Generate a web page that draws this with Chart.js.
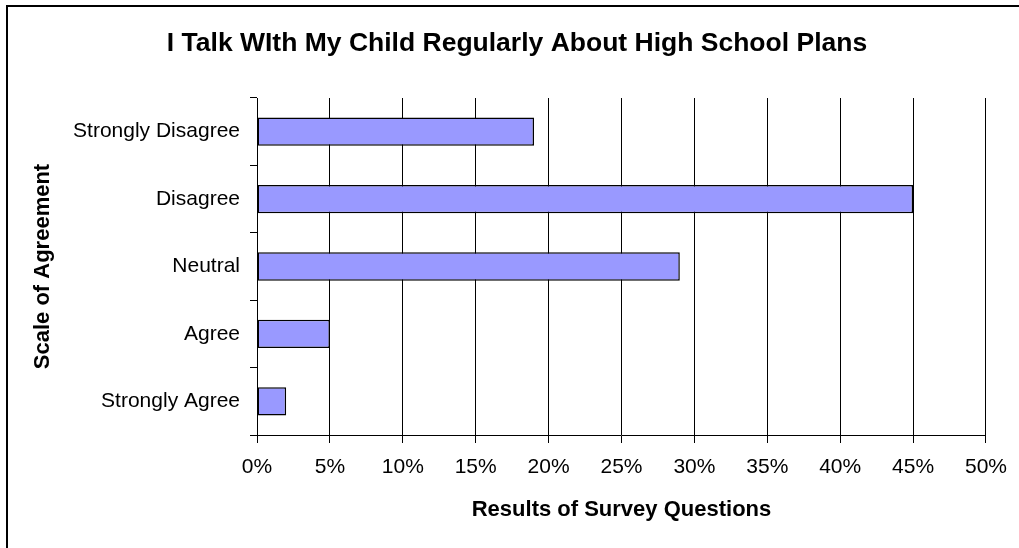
<!DOCTYPE html>
<html>
<head>
<meta charset="utf-8">
<script src="https://cdn.jsdelivr.net/npm/chart.js@4/dist/chart.umd.min.js"></script>
<style>
  html,body{margin:0;padding:0;background:#fff;overflow:hidden;}
  #wrap{position:absolute;left:0;top:0;width:1019px;height:548px;}
  #frame{position:absolute;left:6px;top:5px;width:1100px;height:700px;border:2px solid #000;}
  canvas{position:absolute;left:0;top:0;}
</style>
</head>
<body>
<div id="wrap">
  <div id="frame"></div>
  <canvas id="chart" width="1019" height="548"></canvas>
</div>
<script>
const categories = ['Strongly Disagree','Disagree','Neutral','Agree','Strongly Agree'];
const percents = [19, 45, 29, 5, 2];
const xTicksMax = 50;
const xTicksStep = 5;
const chartTitle = 'I Talk WIth My Child Regularly About High School Plans';

const font = '"Liberation Sans", Arial, sans-serif';

// title drawn by hand so it can sit a bit right of the canvas centre, like the original
const titlePlugin = {
  id: 'titleText',
  afterDraw(chart){
    const ctx = chart.ctx;
    ctx.save();
    ctx.font = 'bold 26.5px ' + font;
    ctx.fillStyle = '#000';
    ctx.textAlign = 'center';
    ctx.textBaseline = 'middle';
    ctx.fillText(chartTitle, 517, 44);
    ctx.restore();
  }
};

new Chart(document.getElementById('chart'), {
  type: 'bar',
  data: {
    labels: categories,
    datasets: [{
      data: percents,
      backgroundColor: '#9999ff',
      borderColor: '#000',
      borderWidth: 1.5,
      borderSkipped: false,
      categoryPercentage: 1,
      barPercentage: 0.42
    }]
  },
  options: {
    indexAxis: 'y',
    responsive: false,
    animation: false,
    devicePixelRatio: 1,
    layout: {padding: {left: 0, right: 30, top: 98, bottom: 0}},
    plugins: {
      legend: {display: false},
      tooltip: {enabled: false},
      title: {display: false}
    },
    scales: {
      x: {
        min: 0, max: xTicksMax,
        ticks: {stepSize: xTicksStep, color: '#000', font: {family: font, size: 21}, padding: 12,
          callback: v => v + '%'},
        grid: {color: '#000', lineWidth: 1, tickLength: 8, drawTicks: true},
        border: {color: '#000', width: 1},
        title: {display: true, text: 'Results of Survey Questions', color: '#000',
          font: {family: font, size: 22, weight: 'bold'}, padding: {top: 0, bottom: 25}},
        afterFit: s => { s.height = 113; }
      },
      y: {
        ticks: {color: '#000', font: {family: font, size: 21}, padding: 10},
        grid: {drawOnChartArea: false, color: '#000', tickLength: 7, offset: true},
        border: {color: '#000', width: 1},
        title: {display: true, text: 'Scale of Agreement', color: '#000',
          font: {family: font, size: 22, weight: 'bold'}, padding: {top: 30, bottom: 0}},
        afterFit: s => { s.width = 257; }
      }
    }
  },
  plugins: [titlePlugin]
});
</script>
</body>
</html>
